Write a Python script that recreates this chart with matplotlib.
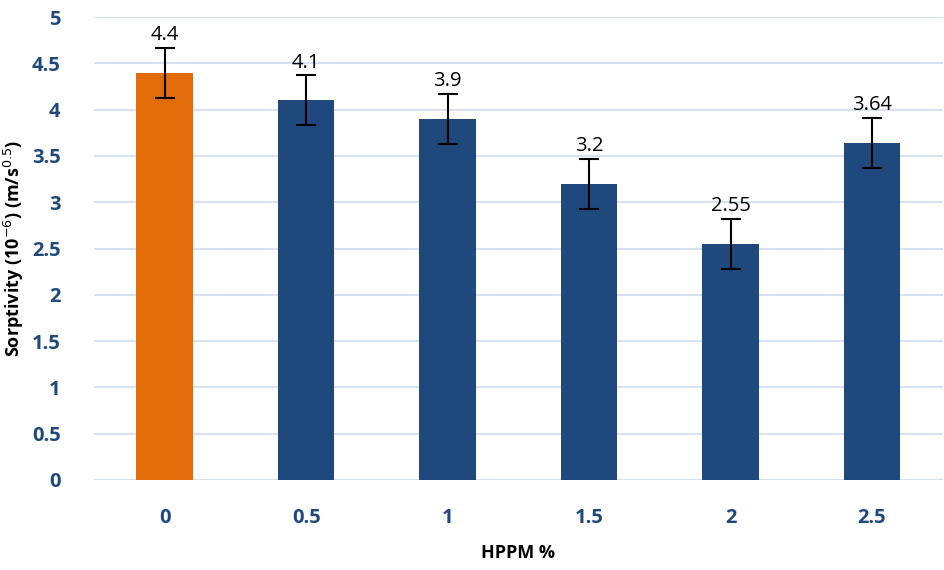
import numpy as np
import matplotlib.pyplot as plt

categories = ['0', '0.5', '1', '1.5', '2', '2.5']
values = [4.4, 4.1, 3.9, 3.2, 2.55, 3.64]
errors = [0.27, 0.27, 0.27, 0.27, 0.27, 0.27]
labels = ['4.4', '4.1', '3.9', '3.2', '2.55', '3.64']
colors = ['#E36C0A', '#1F497D', '#1F497D', '#1F497D', '#1F497D', '#1F497D']

plt.rcParams['font.family'] = ['Open Sans', 'DejaVu Sans']

fig = plt.figure(figsize=(9.44, 5.70), dpi=100)
ax = fig.add_axes([0.0996, 0.158, 0.899, 0.812])

x = np.arange(len(categories))
ax.bar(x, values, width=0.4, color=colors, zorder=3)
ax.errorbar(x, values, yerr=errors, fmt='none', ecolor='black',
            elinewidth=1.5, capsize=7, capthick=1.5, zorder=4)

for xi, v, e, lab in zip(x, values, errors, labels):
    ax.text(xi, v + e + 0.03, lab, ha='center', va='bottom', fontsize=14.5, color='black')

ax.set_xlim(-0.5, len(categories) - 0.5)
ax.set_ylim(0, 5)
ax.set_yticks(np.arange(0, 5.01, 0.5))
ax.set_yticklabels(['0', '0.5', '1', '1.5', '2', '2.5', '3', '3.5', '4', '4.5', '5'])
ax.set_xticks(x)
ax.set_xticklabels(categories)
ax.yaxis.grid(True, color='#D6E1F1', linewidth=1.5, zorder=0)
ax.set_axisbelow(True)
for s in ax.spines.values():
    s.set_visible(False)
ax.tick_params(length=0, labelsize=14.5, labelcolor='#1F497D')
ax.tick_params(axis='x', pad=20)
ax.tick_params(axis='y', pad=24)
for t in ax.get_xticklabels() + ax.get_yticklabels():
    t.set_fontweight('bold')

ax.set_xlabel('HPPM %', fontsize=13, fontweight='bold', labelpad=12)
ax.set_ylabel('Sorptivity (10$^{-6}$) (m/s$^{0.5}$)', fontsize=13, fontweight='bold', labelpad=4)

fig.savefig('out.png', dpi=100, facecolor='white')
